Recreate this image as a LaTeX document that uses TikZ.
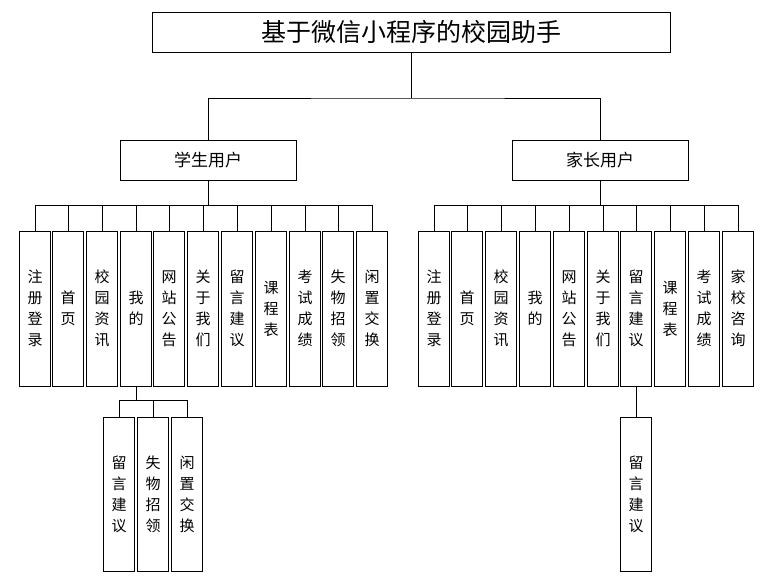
\documentclass[tikz,border=0pt]{standalone}
\usepackage{fontspec}
\newfontfamily\cjk{Noto Sans CJK SC}
\begin{document}
\begin{tikzpicture}[x=1pt,y=-1pt,
  box/.style={draw,line width=0.8pt,inner sep=0pt,font=\cjk\fontsize{15}{21}\selectfont,align=center},
  ln/.style={line width=0.8pt}]
\useasboundingbox (0,0) rectangle (771,585);
\node[box,minimum width=518pt,minimum height=40pt,font=\cjk\fontsize{25}{30}\selectfont] (t) at (411,32) {基于微信小程序的校园助手};
\node[box,minimum width=176pt,minimum height=40pt,font=\cjk\fontsize{17}{21}\selectfont] (s) at (208,160) {学生用户};
\node[box,minimum width=176pt,minimum height=40pt,font=\cjk\fontsize{17}{21}\selectfont] (p) at (600,160) {家长用户};
\draw[ln] (t.south) -- (411,98) coordinate (h0);
\draw[ln] (s.north) |- (h0) -| (p.north);
\def\mk#1#2#3{\node[box,minimum width=31pt,minimum height=155pt] (#1) at (#2,308.5) {#3};}
\mk{a1}{35}{注\\册\\登\\录}
\mk{a2}{68}{首\\页}
\mk{a3}{102}{校\\园\\资\\讯}
\mk{a4}{136}{我\\的}
\mk{a5}{169}{网\\站\\公\\告}
\mk{a6}{203}{关\\于\\我\\们}
\mk{a7}{237}{留\\言\\建\\议}
\mk{a8}{271}{课\\程\\表}
\mk{a9}{305}{考\\试\\成\\绩}
\mk{a10}{338}{失\\物\\招\\领}
\mk{a11}{372}{闲\\置\\交\\换}
\mk{b1}{434}{注\\册\\登\\录}
\mk{b2}{467}{首\\页}
\mk{b3}{501}{校\\园\\资\\讯}
\mk{b4}{535}{我\\的}
\mk{b5}{569}{网\\站\\公\\告}
\mk{b6}{603}{关\\于\\我\\们}
\mk{b7}{636}{留\\言\\建\\议}
\mk{b8}{670}{课\\程\\表}
\mk{b9}{704}{考\\试\\成\\绩}
\mk{b10}{738}{家\\校\\咨\\询}
\draw[ln] (s.south) -- (208,205);
\draw[ln] (a1.north) |- (a11.north |- 0,205) -- (a11.north);
\foreach \n in {a2,a3,a4,a5,a6,a7,a8,a9,a10} \draw[ln] (\n.north) -- (\n.north |- 0,205);
\draw[ln] (p.south) -- (600,205);
\draw[ln] (b1.north) |- (b10.north |- 0,205) -- (b10.north);
\foreach \n in {b2,b3,b4,b5,b6,b7,b8,b9} \draw[ln] (\n.north) -- (\n.north |- 0,205);
\def\sb#1#2#3{\node[box,minimum width=31pt,minimum height=154pt] (#1) at (#2,494) {#3};}
\sb{c1}{119}{留\\言\\建\\议}
\sb{c2}{153}{失\\物\\招\\领}
\sb{c3}{187}{闲\\置\\交\\换}
\sb{d1}{636}{留\\言\\建\\议}
\draw[ln] (a4.south) -- (136,400);
\draw[ln] (c1.north) |- (c3.north |- 0,400) -- (c3.north);
\draw[ln] (c2.north) -- (c2.north |- 0,400);
\draw[ln] (b7.south) -- (d1.north);
\end{tikzpicture}
\end{document}
